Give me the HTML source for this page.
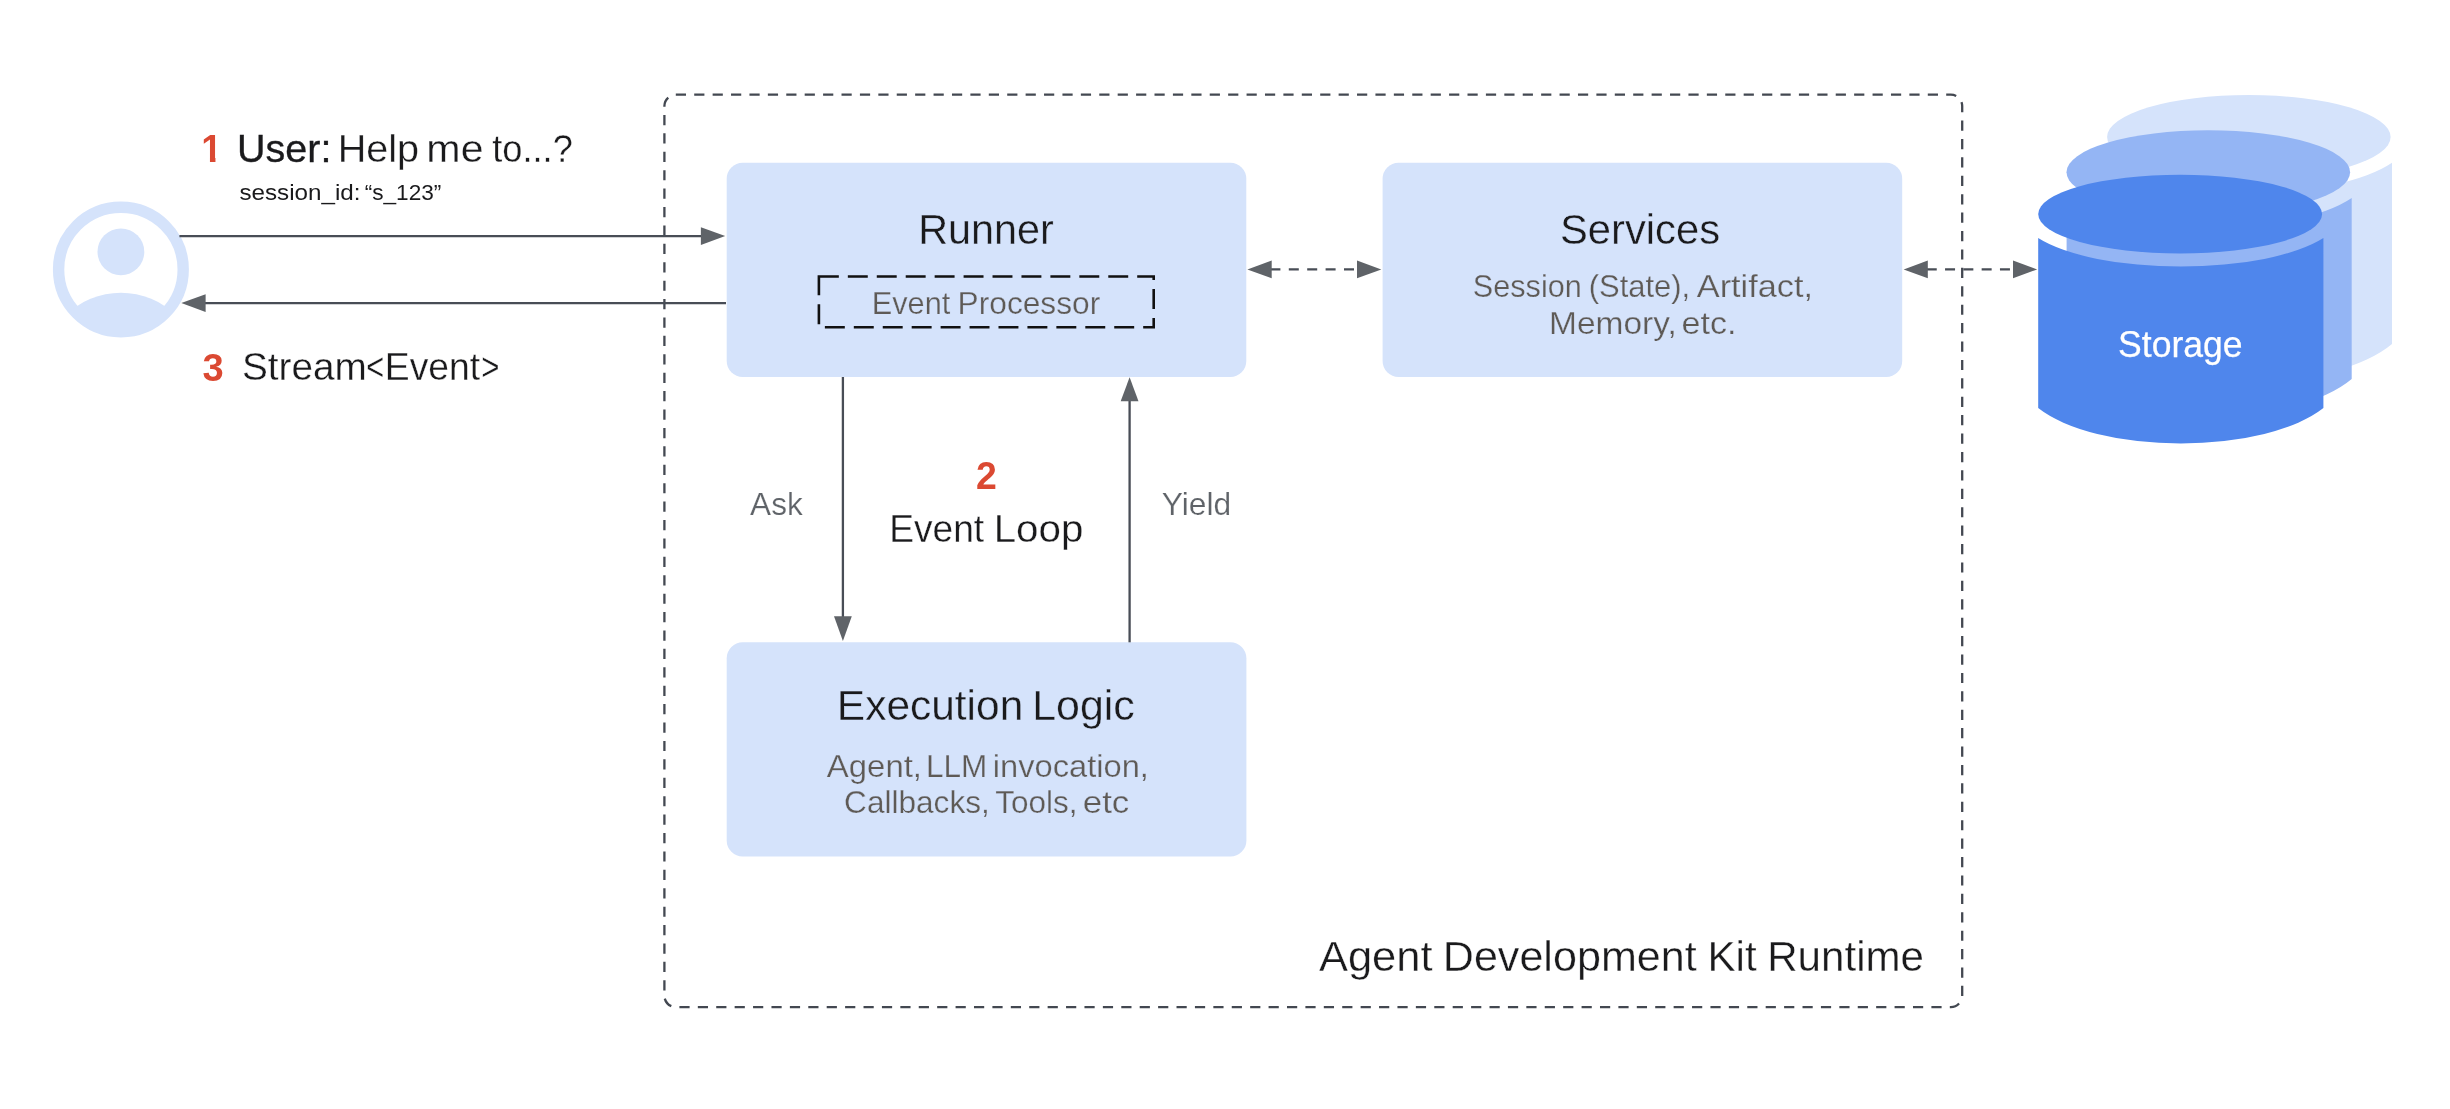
<!DOCTYPE html>
<html lang="en"><head><meta charset="utf-8"><title>Agent Development Kit Runtime</title>
<style>
html,body{margin:0;padding:0;background:#ffffff;}
body{width:2450px;height:1109px;overflow:hidden;}
svg{display:block;font-family:"Liberation Sans", Arial, Helvetica, sans-serif;will-change:transform;}
text{white-space:pre;}
</style></head><body>
<svg width="2450" height="1109" viewBox="0 0 2450 1109">
<rect x="0" y="0" width="2450" height="1109" fill="#ffffff"/>
<path d="M675.8,94.7 L1950.8,94.7 A11.4,11.4 0 0 1 1962.2,106.10 L1962.2,995.70 A11.4,11.4 0 0 1 1950.8,1007.1 L675.8,1007.1 A11.4,11.4 0 0 1 664.4,995.7 L664.4,106.10 A11.4,11.4 0 0 1 675.80,94.7 Z" fill="none" stroke="#434851" stroke-width="2.3" pathLength="239" stroke-dasharray="0.554 0.446"/>
<rect x="726.7" y="162.8" width="519.60" height="214.20" rx="16" ry="16" fill="#d5e3fb"/>
<rect x="1382.6" y="162.8" width="519.60" height="214.20" rx="16" ry="16" fill="#d5e3fb"/>
<rect x="726.7" y="642.3" width="519.70" height="214.10" rx="16" ry="16" fill="#d5e3fb"/>
<path d="M818.9,276.5 L1153.7,276.5 L1153.7,327.3 L818.9,327.3 Z" fill="none" stroke="#111111" stroke-width="2.6" pathLength="26.651" stroke-dasharray="0.689 0.311"/>
<path d="M2106.90,162.80 A160.4,56.00 0 0 0 2392.00,162.80 L2392.00,343.90 A160.4,69.50 0 0 1 2106.90,343.90 Z" fill="#d5e3fb"/><ellipse cx="2248.85" cy="137.00" rx="141.75" ry="42.00" fill="#d5e3fb"/>
<path d="M2066.60,197.90 A160.4,56.00 0 0 0 2351.70,197.90 L2351.70,379.10 A160.4,69.50 0 0 1 2066.60,379.10 Z" fill="#94b5f4"/><ellipse cx="2208.30" cy="172.20" rx="141.80" ry="42.00" fill="#94b5f4"/>
<path d="M2038.20,238.10 A160.4,52.50 0 0 0 2323.40,238.10 L2323.40,408.10 A160.4,65.20 0 0 1 2038.20,408.10 Z" fill="#4f86ec"/><ellipse cx="2180.15" cy="214.10" rx="141.95" ry="39.40" fill="#4f86ec"/>
<clipPath id="uc"><circle cx="120.9" cy="269.5" r="67.0"/></clipPath>
<circle cx="120.9" cy="269.5" r="62.3" fill="none" stroke="#d5e3fb" stroke-width="11.4"/>
<circle cx="120.9" cy="251.8" r="23.4" fill="#d5e3fb"/>
<circle cx="120.9" cy="372.1" r="79.3" fill="#d5e3fb" clip-path="url(#uc)"/>
<path d="M179.4,236.1 L705,236.1" fill="none" stroke="#484d56" stroke-width="2.3"/>
<path d="M725.20,236.10 L700.90,227.20 L700.90,245.00 Z" fill="#5f6368"/>
<path d="M726,303.1 L200,303.1" fill="none" stroke="#484d56" stroke-width="2.3"/>
<path d="M181.30,303.10 L205.60,294.20 L205.60,312.00 Z" fill="#5f6368"/>
<path d="M842.9,377.0 L842.9,620" fill="none" stroke="#484d56" stroke-width="2.3"/>
<path d="M842.90,640.90 L834.00,616.30 L851.80,616.30 Z" fill="#5f6368"/>
<path d="M1129.6,642.3 L1129.6,398" fill="none" stroke="#484d56" stroke-width="2.3"/>
<path d="M1129.60,377.20 L1120.70,401.30 L1138.50,401.30 Z" fill="#5f6368"/>
<path d="M1252.0,269.4 L1360,269.4" fill="none" stroke="#484d56" stroke-width="2.3" stroke-dasharray="10 8.4"/>
<path d="M1247.40,269.40 L1271.70,260.50 L1271.70,278.30 Z" fill="#5f6368"/>
<path d="M1381.30,269.40 L1357.00,260.50 L1357.00,278.30 Z" fill="#5f6368"/>
<path d="M1908.45,269.4 L2016,269.4" fill="none" stroke="#484d56" stroke-width="2.3" stroke-dasharray="10 8.3"/>
<path d="M1903.70,269.40 L1927.80,260.50 L1927.80,278.30 Z" fill="#5f6368"/>
<path d="M2037.20,269.40 L2013.00,260.50 L2013.00,278.30 Z" fill="#5f6368"/>
<clipPath id="c1"><path d="M195,125 H215.45 V170 H209.95 V157.9 H195 Z"/></clipPath><text id="t1" y="161.90" font-size="38.8" fill="#db4932" font-weight="bold" clip-path="url(#c1)"><tspan id="t1_0" x="201.25" textLength="20.78" lengthAdjust="spacingAndGlyphs">1</tspan></text>
<text id="t2" y="161.90" font-size="38.6" fill="#1a1a1c" stroke="#1a1a1c" stroke-width="0.35"><tspan id="t2_0" x="237.11" textLength="94.30" lengthAdjust="spacingAndGlyphs">User:</tspan></text>
<text id="t3" y="161.90" font-size="38.6" fill="#1a1a1c" stroke="#ffffff" stroke-width="0.3"><tspan id="t3_0" x="337.68" textLength="81.45" lengthAdjust="spacingAndGlyphs">Help</tspan> <tspan id="t3_1" x="426.36" textLength="57.19" lengthAdjust="spacingAndGlyphs">me</tspan> <tspan id="t3_2" x="492.31" textLength="80.47" lengthAdjust="spacingAndGlyphs">to...?</tspan></text>
<text id="t4" y="199.80" font-size="22.8" fill="#1a1a1c"><tspan id="t4_0" x="239.44" textLength="121.11" lengthAdjust="spacingAndGlyphs">session_id:</tspan> <tspan id="t4_1" x="364.64" textLength="76.73" lengthAdjust="spacingAndGlyphs">“s_123”</tspan></text>
<text id="t5" y="380.50" font-size="38.8" fill="#db4932" font-weight="bold"><tspan id="t5_0" x="202.47" textLength="21.19" lengthAdjust="spacingAndGlyphs">3</tspan></text>
<text id="t6" y="379.80" font-size="38.6" fill="#1a1a1c" stroke="#ffffff" stroke-width="0.3"><tspan id="t6_0" x="241.93" textLength="124.84" lengthAdjust="spacingAndGlyphs">Stream</tspan><tspan id="t6_1" x="366.20" textLength="17.92" lengthAdjust="spacingAndGlyphs">&lt;</tspan><tspan id="t6_2" x="384.84" textLength="95.28" lengthAdjust="spacingAndGlyphs">Event</tspan><tspan id="t6_3" x="481.35" textLength="18.21" lengthAdjust="spacingAndGlyphs">&gt;</tspan></text>
<text id="t7" y="243.50" font-size="41.7" fill="#1a1a1c" stroke="#d5e3fb" stroke-width="0.35"><tspan id="t7_0" x="918.16" textLength="135.73" lengthAdjust="spacingAndGlyphs">Runner</tspan></text>
<text id="t8" y="314.10" font-size="31.1" fill="#5e5a56" stroke="#d5e3fb" stroke-width="0.25"><tspan id="t8_0" x="871.78" textLength="78.48" lengthAdjust="spacingAndGlyphs">Event</tspan> <tspan id="t8_1" x="957.60" textLength="142.61" lengthAdjust="spacingAndGlyphs">Processor</tspan></text>
<text id="t9" y="244.00" font-size="41.7" fill="#1a1a1c" stroke="#d5e3fb" stroke-width="0.35"><tspan id="t9_0" x="1559.96" textLength="160.11" lengthAdjust="spacingAndGlyphs">Services</tspan></text>
<text id="t10" y="297.00" font-size="31.1" fill="#5e5a56" stroke="#d5e3fb" stroke-width="0.25"><tspan id="t10_0" x="1472.87" textLength="108.89" lengthAdjust="spacingAndGlyphs">Session</tspan> <tspan id="t10_1" x="1588.72" textLength="101.50" lengthAdjust="spacingAndGlyphs">(State),</tspan> <tspan id="t10_2" x="1696.78" textLength="116.27" lengthAdjust="spacingAndGlyphs">Artifact,</tspan></text>
<text id="t11" y="333.90" font-size="31.1" fill="#5e5a56" stroke="#d5e3fb" stroke-width="0.25"><tspan id="t11_0" x="1549.07" textLength="127.63" lengthAdjust="spacingAndGlyphs">Memory,</tspan> <tspan id="t11_1" x="1681.61" textLength="54.79" lengthAdjust="spacingAndGlyphs">etc.</tspan></text>
<text id="t12" y="356.80" font-size="37" fill="#ffffff" stroke="#ffffff" stroke-width="0.25"><tspan id="t12_0" x="2118.05" textLength="124.54" lengthAdjust="spacingAndGlyphs">Storage</tspan></text>
<text id="t13" y="514.70" font-size="31.3" fill="#5f6368" stroke="#ffffff" stroke-width="0.2"><tspan id="t13_0" x="750.10" textLength="52.57" lengthAdjust="spacingAndGlyphs">Ask</tspan></text>
<text id="t14" y="489.20" font-size="38.4" fill="#db4932" font-weight="bold"><tspan id="t14_0" x="976.08" textLength="20.81" lengthAdjust="spacingAndGlyphs">2</tspan></text>
<text id="t15" y="541.90" font-size="38.6" fill="#1a1a1c" stroke="#ffffff" stroke-width="0.3"><tspan id="t15_0" x="889.22" textLength="94.86" lengthAdjust="spacingAndGlyphs">Event</tspan> <tspan id="t15_1" x="993.70" textLength="89.63" lengthAdjust="spacingAndGlyphs">Loop</tspan></text>
<text id="t16" y="514.70" font-size="31.3" fill="#5f6368" stroke="#ffffff" stroke-width="0.2"><tspan id="t16_0" x="1161.66" textLength="69.47" lengthAdjust="spacingAndGlyphs">Yield</tspan></text>
<text id="t17" y="720.40" font-size="41.7" fill="#1a1a1c" stroke="#d5e3fb" stroke-width="0.35"><tspan id="t17_0" x="836.87" textLength="186.39" lengthAdjust="spacingAndGlyphs">Execution</tspan> <tspan id="t17_1" x="1032.15" textLength="102.64" lengthAdjust="spacingAndGlyphs">Logic</tspan></text>
<text id="t18" y="777.00" font-size="31.1" fill="#5e5a56" stroke="#d5e3fb" stroke-width="0.25"><tspan id="t18_0" x="826.85" textLength="95.12" lengthAdjust="spacingAndGlyphs">Agent,</tspan> <tspan id="t18_1" x="926.02" textLength="61.34" lengthAdjust="spacingAndGlyphs">LLM</tspan> <tspan id="t18_2" x="992.87" textLength="156.02" lengthAdjust="spacingAndGlyphs">invocation,</tspan></text>
<text id="t19" y="813.00" font-size="31.1" fill="#5e5a56" stroke="#d5e3fb" stroke-width="0.25"><tspan id="t19_0" x="844.08" textLength="145.70" lengthAdjust="spacingAndGlyphs">Callbacks,</tspan> <tspan id="t19_1" x="995.39" textLength="82.22" lengthAdjust="spacingAndGlyphs">Tools,</tspan> <tspan id="t19_2" x="1082.82" textLength="46.46" lengthAdjust="spacingAndGlyphs">etc</tspan></text>
<text id="t20" y="971.20" font-size="43.0" fill="#1a1a1c" stroke="#ffffff" stroke-width="0.35"><tspan id="t20_0" x="1318.90" textLength="113.73" lengthAdjust="spacingAndGlyphs">Agent</tspan> <tspan id="t20_1" x="1442.76" textLength="253.98" lengthAdjust="spacingAndGlyphs">Development</tspan> <tspan id="t20_2" x="1707.45" textLength="49.23" lengthAdjust="spacingAndGlyphs">Kit</tspan> <tspan id="t20_3" x="1767.16" textLength="156.86" lengthAdjust="spacingAndGlyphs">Runtime</tspan></text>
</svg>
</body></html>
